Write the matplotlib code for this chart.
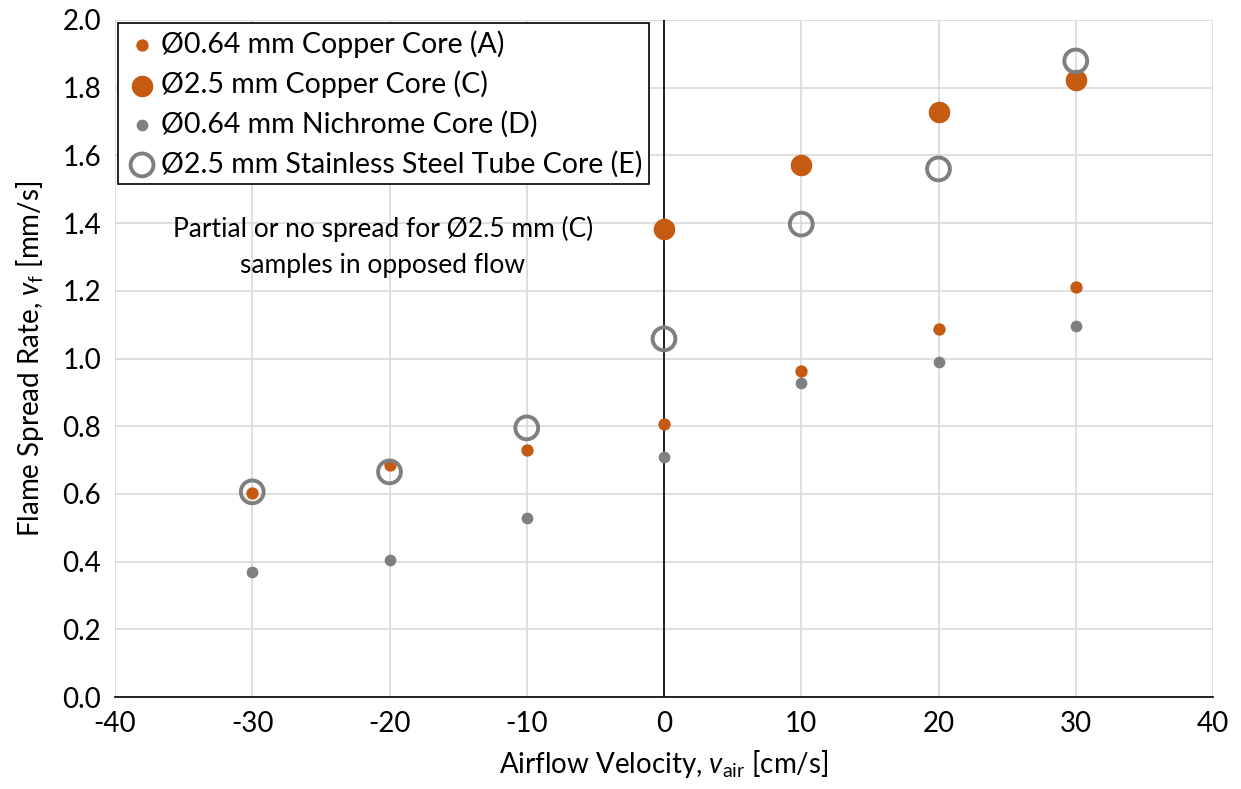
import matplotlib
matplotlib.use("Agg")
import matplotlib.pyplot as plt

plt.rcParams['font.family'] = ['Lato', 'DejaVu Sans']
plt.rcParams['mathtext.fontset'] = 'custom'
plt.rcParams['mathtext.rm'] = 'Lato'
plt.rcParams['mathtext.it'] = 'Lato:italic'
plt.rcParams['axes.unicode_minus'] = False

# flame spread data, airflow velocity in cm/s
v_air = [-30, -20, -10, 0, 10, 20, 30]
v_air_c = [0, 10, 20, 30]

copper_a = [0.603, 0.685, 0.730, 0.807, 0.963, 1.087, 1.211]
copper_c = [1.383, 1.572, 1.728, 1.823]
nichrome_d = [0.369, 0.405, 0.529, 0.709, 0.928, 0.990, 1.096]
steel_e = [0.606, 0.665, 0.795, 1.058, 1.397, 1.560, 1.879]

orange = '#C55A11'
gray = '#7F7F7F'

fig = plt.figure(figsize=(12.41, 7.89), dpi=100)
ax = fig.add_axes([115 / 1241, 1 - 697 / 789, (1213 - 115) / 1241, (697 - 20) / 789])

ax.scatter(v_air, copper_a, s=62, color=orange, zorder=3,
           label='Ø0.64 mm Copper Core (A)')
ax.scatter(v_air_c, copper_c, s=210, color=orange, zorder=3,
           label='Ø2.5 mm Copper Core (C)')
ax.scatter(v_air, nichrome_d, s=55, color=gray, zorder=3,
           label='Ø0.64 mm Nichrome Core (D)')
ax.scatter(v_air, steel_e, s=270, facecolor='none', edgecolor=gray,
           linewidth=2.8, zorder=4, label='Ø2.5 mm Stainless Steel Tube Core (E)')

ax.set_xlim(-40, 40)
ax.set_ylim(0, 2.0)
ax.set_xticks(range(-40, 41, 10))
ax.set_yticks([i / 5 for i in range(11)])
ax.set_yticklabels([f'{i / 5:.1f}' for i in range(11)])
ax.grid(True, color='#D9D9D9', linewidth=1.2, zorder=0)
ax.set_axisbelow(True)

for s in ['top', 'right', 'left']:
    ax.spines[s].set_visible(False)
ax.spines['bottom'].set_linewidth(1.2)
ax.axvline(0, color='black', linewidth=1.2, zorder=2)
ax.tick_params(length=0, labelsize=20, pad=10)

ax.set_xlabel(r'Airflow Velocity, $v_{\mathrm{air}}$ [cm/s]', fontsize=20, labelpad=8)
ax.set_ylabel(r'Flame Spread Rate, $v_{\mathrm{f}}$ [mm/s]', fontsize=20, labelpad=12)

ax.text(-20.5, 1.33, 'Partial or no spread for Ø2.5 mm (C)\nsamples in opposed flow',
        ha='center', va='center', fontsize=19, linespacing=1.55)

leg = ax.legend(loc='upper left', bbox_to_anchor=(0.0, 1.0), fontsize=20.5,
                frameon=True, fancybox=False, edgecolor='black', framealpha=1,
                handletextpad=0.05, handlelength=1.2, borderpad=0.25,
                labelspacing=0.45, borderaxespad=0.1)
leg.get_frame().set_linewidth(1.2)

fig.savefig('out.png', dpi=100)
